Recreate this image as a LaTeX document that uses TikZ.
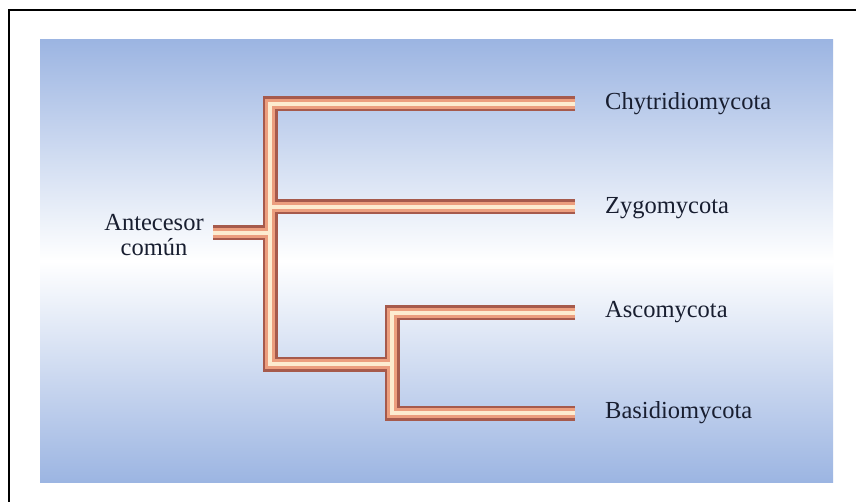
\documentclass[tikz,border=0pt]{standalone}
\usepackage{fontspec}
\setmainfont{Liberation Serif}
\usetikzlibrary{positioning}

\definecolor{panelblue}{RGB}{156,181,226}
\definecolor{pipeedge}{RGB}{166,90,76}
\definecolor{pipemid}{RGB}{236,158,126}
\definecolor{pipecore}{RGB}{253,236,208}
\definecolor{labelink}{RGB}{24,30,48}

\begin{document}
\begin{tikzpicture}[x=1pt, y=-1pt,
    taxon/.style={anchor=west, inner sep=0pt, text=labelink,
      font=\fontsize{24.5}{25}\selectfont},
    pipe/.style={line join=miter, line cap=butt}]
  \useasboundingbox (0,0) rectangle (856,502);
  \fill[white] (0,0) rectangle (856,502);
  \draw[line width=2pt] (9,502) -- (9,10) -- (856,10);
  \shade[top color=panelblue, bottom color=panelblue, middle color=white]
    (40,40) rectangle (833,482);

  % labels
  \node[taxon] (chy) at (605,104) {Chytridiomycota};
  \node[taxon] (zyg) at (605,208) {Zygomycota};
  \node[taxon] (asc) at (605,312) {Ascomycota};
  \node[taxon] (bas) at (605,413) {Basidiomycota};
  \node[taxon, anchor=center, align=center] (anc) at (154,235) {Antecesor\\común};

  % branch points
  \coordinate (root) at (213,233);
  \coordinate (mainbend) at (270,364);
  \coordinate (lowfork) at (392,364);
  \coordinate (chyend) at (575,104);
  \coordinate (zygend) at (575,207);
  \coordinate (ascend) at (575,313);
  \coordinate (basend) at (575,413);

  \foreach \w/\c in {15/pipeedge, 10/pipemid, 4/pipecore} {
    \begin{scope}[pipe, line width=\w pt, draw=\c]
      \draw (chyend) -| (mainbend) -- (lowfork);
      \draw (root) -- (root -| mainbend);
      \draw (zygend) -- (zygend -| mainbend);
      \draw (ascend) -| (lowfork) |- (basend);
    \end{scope}
  }
\end{tikzpicture}
\end{document}
